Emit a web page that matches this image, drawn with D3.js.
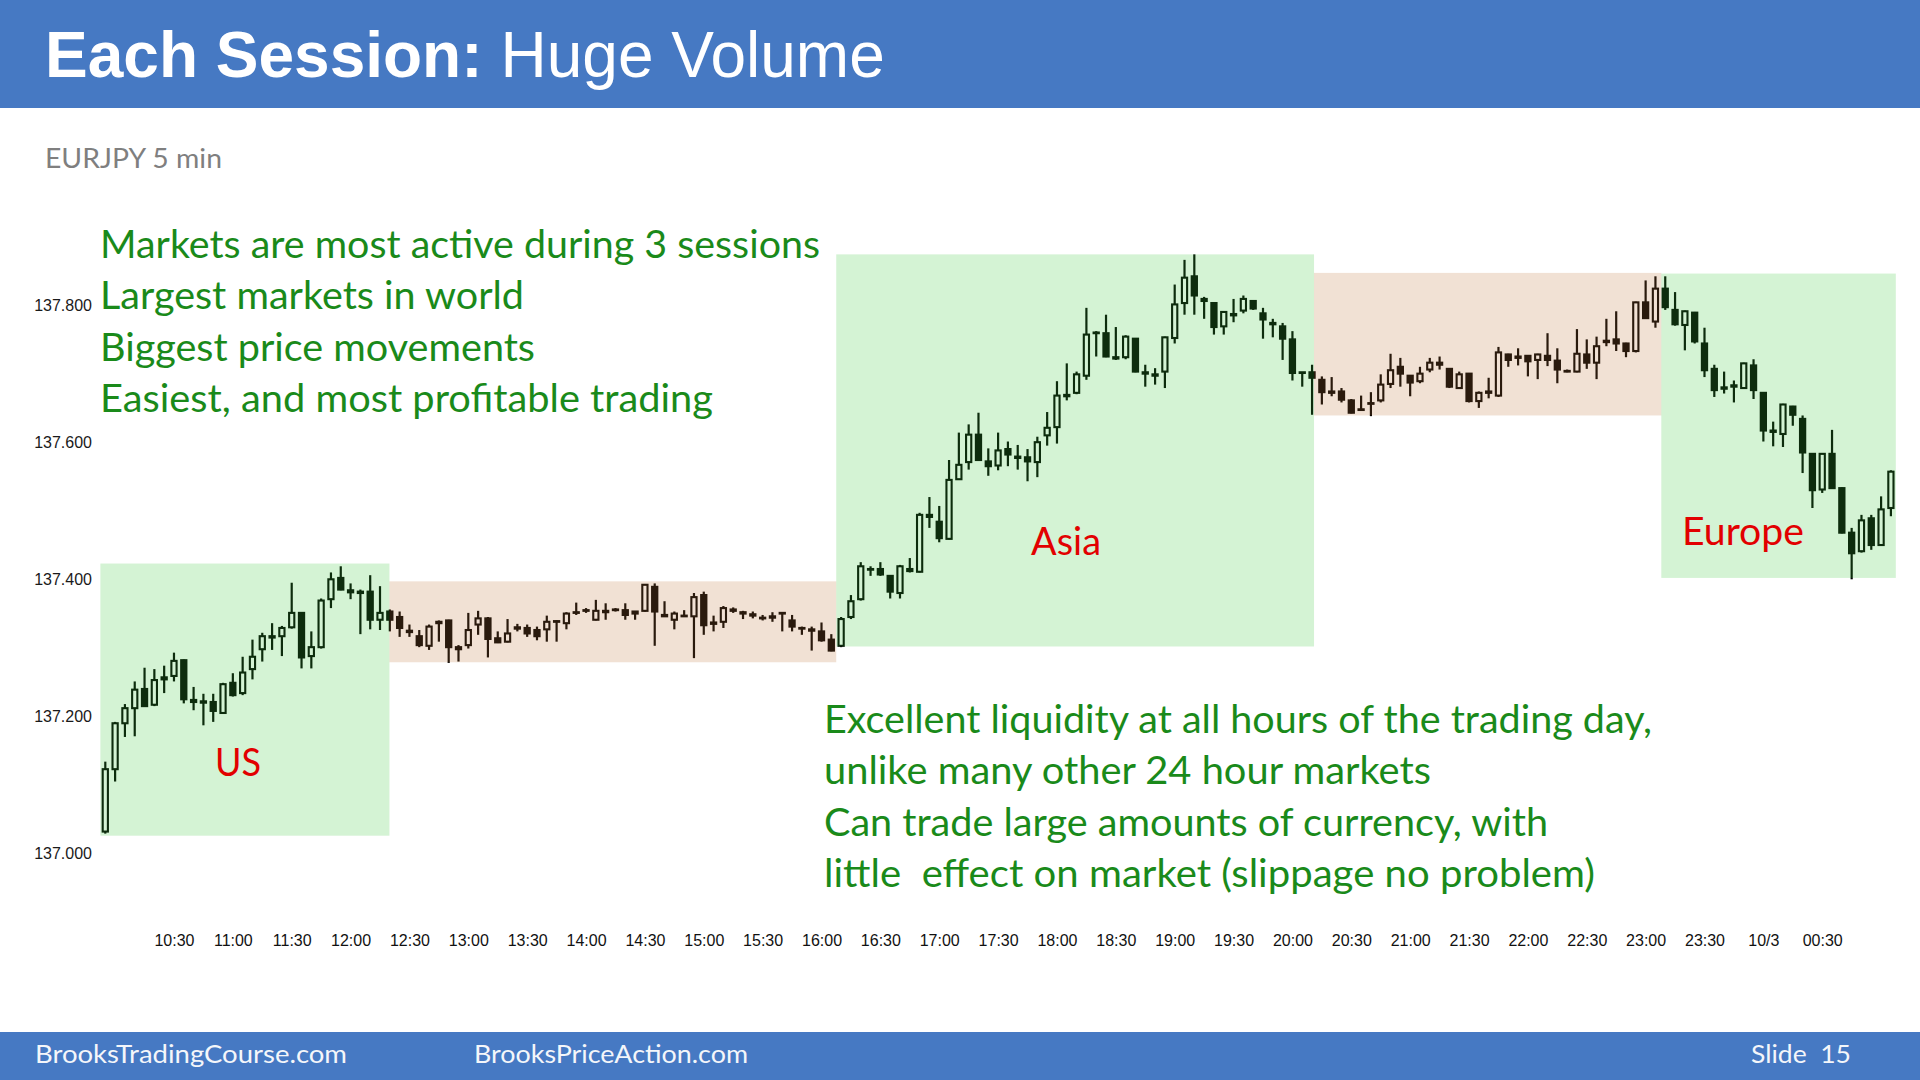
<!DOCTYPE html>
<html><head><meta charset="utf-8">
<script src="https://cdn.jsdelivr.net/npm/d3@7/dist/d3.min.js"></script>
<style>html,body{margin:0;padding:0;background:#fff;} svg{display:block}</style>
</head><body>
<script>
// ---- DATA (EURJPY 5 min, first bar 09:55) ----
const firstBarTime = "09:55";
const barMinutes = 5;

const open = [
137.032,137.123,137.190,137.212,137.240,137.217,137.254,137.259,137.282,137.224,
137.222,137.221,137.205,137.249,137.234,137.269,137.298,137.315,137.317,137.330,
137.351,137.288,137.301,137.371,137.402,137.384,137.382,137.382,137.341,137.353,
137.345,137.325,137.317,137.303,137.338,137.340,137.301,137.304,137.334,137.343,
137.314,137.309,137.330,137.329,137.326,137.327,137.339,137.336,137.352,137.354,
137.341,137.354,137.355,137.355,137.353,137.354,137.389,137.348,137.341,137.346,
137.346,137.377,137.337,137.338,137.356,137.352,137.349,137.344,137.346,137.351,
137.340,137.329,137.327,137.324,137.312,137.303,137.345,137.371,137.415,137.415,
137.405,137.380,137.412,137.411,137.494,137.484,137.459,137.546,137.571,137.611,
137.572,137.566,137.590,137.579,137.578,137.571,137.610,137.622,137.669,137.672,
137.697,137.760,137.759,137.724,137.724,137.751,137.702,137.699,137.703,137.752,
137.803,137.842,137.809,137.803,137.769,137.787,137.792,137.806,137.788,137.774,
137.769,137.750,137.702,137.702,137.691,137.674,137.674,137.661,137.648,137.656,
137.661,137.685,137.710,137.697,137.689,137.706,137.716,137.707,137.679,137.700,
137.660,137.672,137.668,137.728,137.725,137.726,137.720,137.726,137.719,137.704,
137.703,137.728,137.716,137.748,137.750,137.744,137.733,137.804,137.776,137.824,
137.793,137.771,137.789,137.744,137.707,137.680,137.681,137.679,137.712,137.672,
137.617,137.612,137.652,137.634,137.583,137.531,137.583,137.533,137.468,137.441,
137.489,137.450,137.504];
const high = [
137.134,137.192,137.218,137.251,137.271,137.269,137.274,137.293,137.283,137.243,
137.233,137.233,137.249,137.263,137.287,137.312,137.322,137.336,137.332,137.395,
137.352,137.324,137.372,137.410,137.419,137.394,137.385,137.406,137.390,137.356,
137.353,137.334,137.326,137.334,137.340,137.341,137.304,137.351,137.354,137.345,
137.324,137.342,137.335,137.334,137.331,137.347,137.340,137.352,137.366,137.358,
137.370,137.365,137.358,137.365,137.353,137.393,137.394,137.368,137.353,137.355,
137.380,137.382,137.347,137.361,137.359,137.354,137.353,137.348,137.352,137.352,
137.348,137.331,137.331,137.337,137.320,137.345,137.377,137.425,137.419,137.425,
137.406,137.421,137.431,137.497,137.520,137.507,137.574,137.614,137.626,137.643,
137.591,137.614,137.601,137.596,137.590,137.608,137.644,137.689,137.715,137.703,
137.796,137.762,137.786,137.768,137.756,137.752,137.713,137.708,137.754,137.830,
137.866,137.874,137.812,137.804,137.791,137.809,137.814,137.807,137.796,137.780,
137.774,137.762,137.702,137.713,137.696,137.695,137.679,137.663,137.668,137.673,
137.699,137.729,137.723,137.698,137.710,137.723,137.725,137.708,137.703,137.701,
137.674,137.694,137.739,137.729,137.737,137.727,137.729,137.759,137.737,137.706,
137.765,137.750,137.754,137.780,137.791,137.745,137.805,137.836,137.842,137.842,
137.819,137.792,137.790,137.767,137.713,137.703,137.690,137.716,137.721,137.673,
137.630,137.656,137.653,137.639,137.584,137.584,137.618,137.534,137.475,137.494,
137.494,137.521,137.559];
const low = [
137.029,137.105,137.170,137.171,137.214,137.215,137.234,137.251,137.219,137.209,
137.187,137.192,137.204,137.229,137.231,137.254,137.280,137.297,137.288,137.328,
137.270,137.270,137.299,137.358,137.384,137.371,137.320,137.327,137.326,137.324,
137.316,137.316,137.301,137.297,137.309,137.278,137.280,137.299,137.319,137.286,
137.307,137.308,137.324,137.316,137.311,137.309,137.309,137.327,137.348,137.351,
137.340,137.341,137.353,137.341,137.341,137.353,137.303,137.345,137.327,137.345,
137.285,137.319,137.324,137.329,137.351,137.342,137.343,137.340,137.338,137.324,
137.324,137.319,137.296,137.309,137.295,137.301,137.342,137.369,137.405,137.405,
137.372,137.372,137.410,137.410,137.475,137.454,137.458,137.545,137.560,137.573,
137.551,137.559,137.565,137.560,137.543,137.549,137.595,137.598,137.661,137.670,
137.691,137.725,137.724,137.720,137.721,137.702,137.681,137.684,137.679,137.744,
137.786,137.786,137.780,137.757,137.757,137.775,137.788,137.793,137.751,137.753,
137.720,137.690,137.681,137.640,137.655,137.667,137.658,137.642,137.646,137.638,
137.658,137.679,137.681,137.667,137.686,137.702,137.706,137.679,137.678,137.658,
137.650,137.664,137.666,137.710,137.712,137.696,137.692,137.711,137.686,137.702,
137.702,137.707,137.692,137.740,137.733,137.724,137.731,137.780,137.767,137.793,
137.770,137.734,137.744,137.695,137.666,137.671,137.658,137.678,137.663,137.601,
137.594,137.593,137.624,137.555,137.504,137.526,137.532,137.467,137.400,137.439,
137.443,137.449,137.492];
const close = [
137.123,137.190,137.212,137.239,137.215,137.253,137.257,137.281,137.225,137.221,
137.220,137.208,137.247,137.231,137.264,137.287,137.317,137.317,137.329,137.351,
137.286,137.301,137.369,137.400,137.385,137.381,137.380,137.341,137.351,137.341,
137.329,137.323,137.304,137.331,137.336,137.301,137.298,137.326,137.343,137.313,
137.308,137.321,137.328,137.321,137.317,137.338,137.338,137.350,137.351,137.355,
137.354,137.352,137.356,137.348,137.350,137.392,137.353,137.346,137.350,137.347,
137.374,137.333,137.335,137.358,137.354,137.350,137.347,137.343,137.344,137.350,
137.331,137.328,137.325,137.311,137.296,137.342,137.368,137.419,137.414,137.407,
137.382,137.419,137.415,137.494,137.491,137.460,137.545,137.567,137.611,137.574,
137.565,137.588,137.582,137.577,137.572,137.600,137.621,137.668,137.667,137.699,
137.757,137.759,137.725,137.722,137.754,137.703,137.700,137.697,137.753,137.801,
137.840,137.814,137.806,137.768,137.790,137.785,137.809,137.795,137.779,137.772,
137.751,137.701,137.701,137.694,137.673,137.672,137.662,137.643,137.647,137.657,
137.684,137.705,137.700,137.687,137.700,137.716,137.713,137.681,137.699,137.660,
137.672,137.674,137.731,137.720,137.723,137.718,137.728,137.720,137.706,137.703,
137.729,137.716,137.740,137.746,137.744,137.733,137.804,137.781,137.824,137.797,
137.772,137.791,137.747,137.705,137.676,137.678,137.683,137.715,137.676,137.617,
137.615,137.655,137.640,137.585,137.530,137.583,137.533,137.468,137.438,137.486,
137.450,137.502,137.557];

// y axis ticks
const priceTicks = [137.0, 137.2, 137.4, 137.6, 137.8];
// x axis tick times and their printed labels
const tickTimes  = ["10:30","11:00","11:30","12:00","12:30","13:00","13:30","14:00","14:30","15:00","15:30","16:00","16:30","17:00","17:30","18:00","18:30","19:00","19:30","20:00","20:30","21:00","21:30","22:00","22:30","23:00","23:30","24:00","24:30"];
const tickLabels = ["10:30","11:00","11:30","12:00","12:30","13:00","13:30","14:00","14:30","15:00","15:30","16:00","16:30","17:00","17:30","18:00","18:30","19:00","19:30","20:00","20:30","21:00","21:30","22:00","22:30","23:00","23:30","10/3","00:30"];

// session shading (bar-index span, price span)
const sessionName  = ["US","Quiet","Asia","Quiet","Europe"];
const sessionKind  = ["active","quiet","active","quiet","active"];
const sessionStart = [-0.5, 28.96, 74.5, 123.2, 158.6];
const sessionEnd   = [28.96, 74.5, 123.2, 158.6, 182.5];
const sessionHigh  = [137.423, 137.397, 137.874, 137.847, 137.846];
const sessionLow   = [137.026, 137.279, 137.302, 137.639, 137.402];

const titleBold = "Each Session:";
const titleRest = "Huge Volume";
const subtitle = "EURJPY 5 min";
const notesTop = ["Markets are most active during 3 sessions","Largest markets in world","Biggest price movements","Easiest, and most profitable trading"];
const notesBottom = ["Excellent liquidity at all hours of the trading day,","unlike many other 24 hour markets","Can trade large amounts of currency, with","little  effect on market (slippage no problem)"];
const footerLeft = "BrooksTradingCourse.com";
const footerMid = "BrooksPriceAction.com";
const footerRight = "Slide  15";

// ---- DRAW ----
const W = 1920, H = 1080;
const svg = d3.select("body").append("svg").attr("width", W).attr("height", H);
svg.append("rect").attr("width", W).attr("height", H).attr("fill", "#ffffff");

const BLUE = "#4679c3";
svg.append("rect").attr("x",0).attr("y",0).attr("width",W).attr("height",108).attr("fill",BLUE);
svg.append("rect").attr("x",0).attr("y",1032).attr("width",W).attr("height",48).attr("fill",BLUE);

const tb = svg.append("text").attr("x",45).attr("y",77)
  .attr("font-family","Liberation Sans, Arial, sans-serif").attr("font-size",64)
  .attr("font-weight","bold").attr("fill","#ffffff").text(titleBold);
const tbw = tb.node().getComputedTextLength();
svg.append("text").attr("x",45 + tbw + 18).attr("y",77)
  .attr("font-family","Liberation Sans, Arial, sans-serif").attr("font-size",64)
  .attr("fill","#ffffff").text(titleRest);

svg.append("text").attr("x",45).attr("y",168).attr("font-family","Lato, sans-serif")
  .attr("font-size",27).attr("fill","#7f7f7f").attr("textLength",177)
  .attr("lengthAdjust","spacingAndGlyphs").text(subtitle);

const n = open.length;
const x = d3.scaleLinear().domain([0, 182]).range([105.3, 105.3 + 182 * 9.811]);
const y = d3.scaleLinear().domain([137.0, 137.8]).range([853.5, 305.1]);

// y axis labels
const yAxis = d3.axisLeft(y).tickValues(priceTicks).tickFormat(d3.format(".3f")).tickSize(0).tickPadding(0);
const gy = svg.append("g").attr("transform","translate(92,0)").call(yAxis);
gy.select(".domain").remove();
gy.selectAll("text").attr("font-family","Liberation Sans, Arial, sans-serif").attr("font-size",16).attr("fill","#1a1a1a");

// x axis labels
const toMin = s => { const [h,m] = s.split(":").map(Number); return h*60+m; };
const t0 = toMin(firstBarTime);
const tickIdx = tickTimes.map(t => (toMin(t) - t0) / barMinutes);
const xAxis = d3.axisBottom(x).tickValues(tickIdx).tickFormat((d,i) => tickLabels[i]).tickSize(0).tickPadding(0);
const gx = svg.append("g").attr("transform","translate(0,934)").call(xAxis);
gx.select(".domain").remove();
gx.selectAll("text").attr("font-family","Liberation Sans, Arial, sans-serif").attr("font-size",16).attr("fill","#111").attr("dy","0.35em").attr("y",6);

// candles
const bars = d3.range(n).map(i => ({i, o: open[i], h: high[i], l: low[i], c: close[i]}));
const cg = svg.append("g");
cg.selectAll("line.wick").data(bars).join("line").attr("class","wick")
  .attr("x1", d => x(d.i)).attr("x2", d => x(d.i))
  .attr("y1", d => y(d.h)).attr("y2", d => y(d.l))
  .attr("stroke","#000").attr("stroke-width",2.2);
const bw = 5.2;
cg.selectAll("rect.body").data(bars).join("rect").attr("class","body")
  .attr("x", d => x(d.i) - bw/2).attr("width", bw)
  .attr("y", d => y(Math.max(d.o, d.c)))
  .attr("height", d => Math.max(0.6, y(Math.min(d.o, d.c)) - y(Math.max(d.o, d.c))))
  .attr("fill", d => d.c >= d.o ? "#ffffff" : "#000000")
  .attr("stroke","#000").attr("stroke-width",2.1);

// session overlays (translucent, on top of candles)
const sessions = sessionStart.map((s,k) => ({s, e: sessionEnd[k], hi: sessionHigh[k], lo: sessionLow[k], kind: sessionKind[k]}));
svg.append("g").selectAll("rect").data(sessions).join("rect")
  .attr("x", d => x(d.s)).attr("width", d => x(d.e) - x(d.s))
  .attr("y", d => y(d.hi)).attr("height", d => y(d.lo) - y(d.hi))
  .attr("fill", d => d.kind === "active" ? "rgb(60,200,60)" : "rgb(190,120,60)")
  .attr("fill-opacity", 0.22);

// notes
const GREEN = "#1a8a1a";
const topW = [720, 424, 435, 613];
const topY = [258, 309, 361, 412];
svg.append("g").selectAll("text").data(notesTop).join("text")
  .attr("x",100).attr("y",(d,i)=>topY[i]).attr("font-family","Lato, sans-serif").attr("font-size",38)
  .attr("fill",GREEN).attr("textLength",(d,i)=>topW[i]).attr("lengthAdjust","spacingAndGlyphs").text(d=>d);
const botW = [828, 607, 724, 771];
const botY = [733, 784, 836, 887];
svg.append("g").selectAll("text").data(notesBottom).join("text")
  .attr("x",824).attr("y",(d,i)=>botY[i]).attr("font-family","Lato, sans-serif").attr("font-size",38)
  .attr("fill",GREEN).attr("textLength",(d,i)=>botW[i]).attr("lengthAdjust","spacingAndGlyphs")
  .attr("xml:space","preserve").style("white-space","pre").text(d=>d);

// session labels
const RED = "#e20000";
const labels = [{t:"US", x:215, y:776, w:46}, {t:"Asia", x:1031, y:555, w:70}, {t:"Europe", x:1682, y:545, w:122}];
svg.append("g").selectAll("text").data(labels).join("text")
  .attr("x",d=>d.x).attr("y",d=>d.y).attr("font-family","Lato, sans-serif").attr("font-size",38)
  .attr("fill",RED).attr("textLength",d=>d.w).attr("lengthAdjust","spacingAndGlyphs").text(d=>d.t);

// footer
const ft = [{t:footerLeft,x:35,w:312},{t:footerMid,x:474,w:274},{t:footerRight,x:1751,w:100}];
svg.append("g").selectAll("text").data(ft).join("text")
  .attr("x",d=>d.x).attr("y",1063).attr("font-family","Lato, sans-serif").attr("font-size",25)
  .attr("fill","#f4f6fa").attr("textLength",d=>d.w).attr("lengthAdjust","spacingAndGlyphs")
  .style("white-space","pre").text(d=>d.t);
</script>
</body></html>
